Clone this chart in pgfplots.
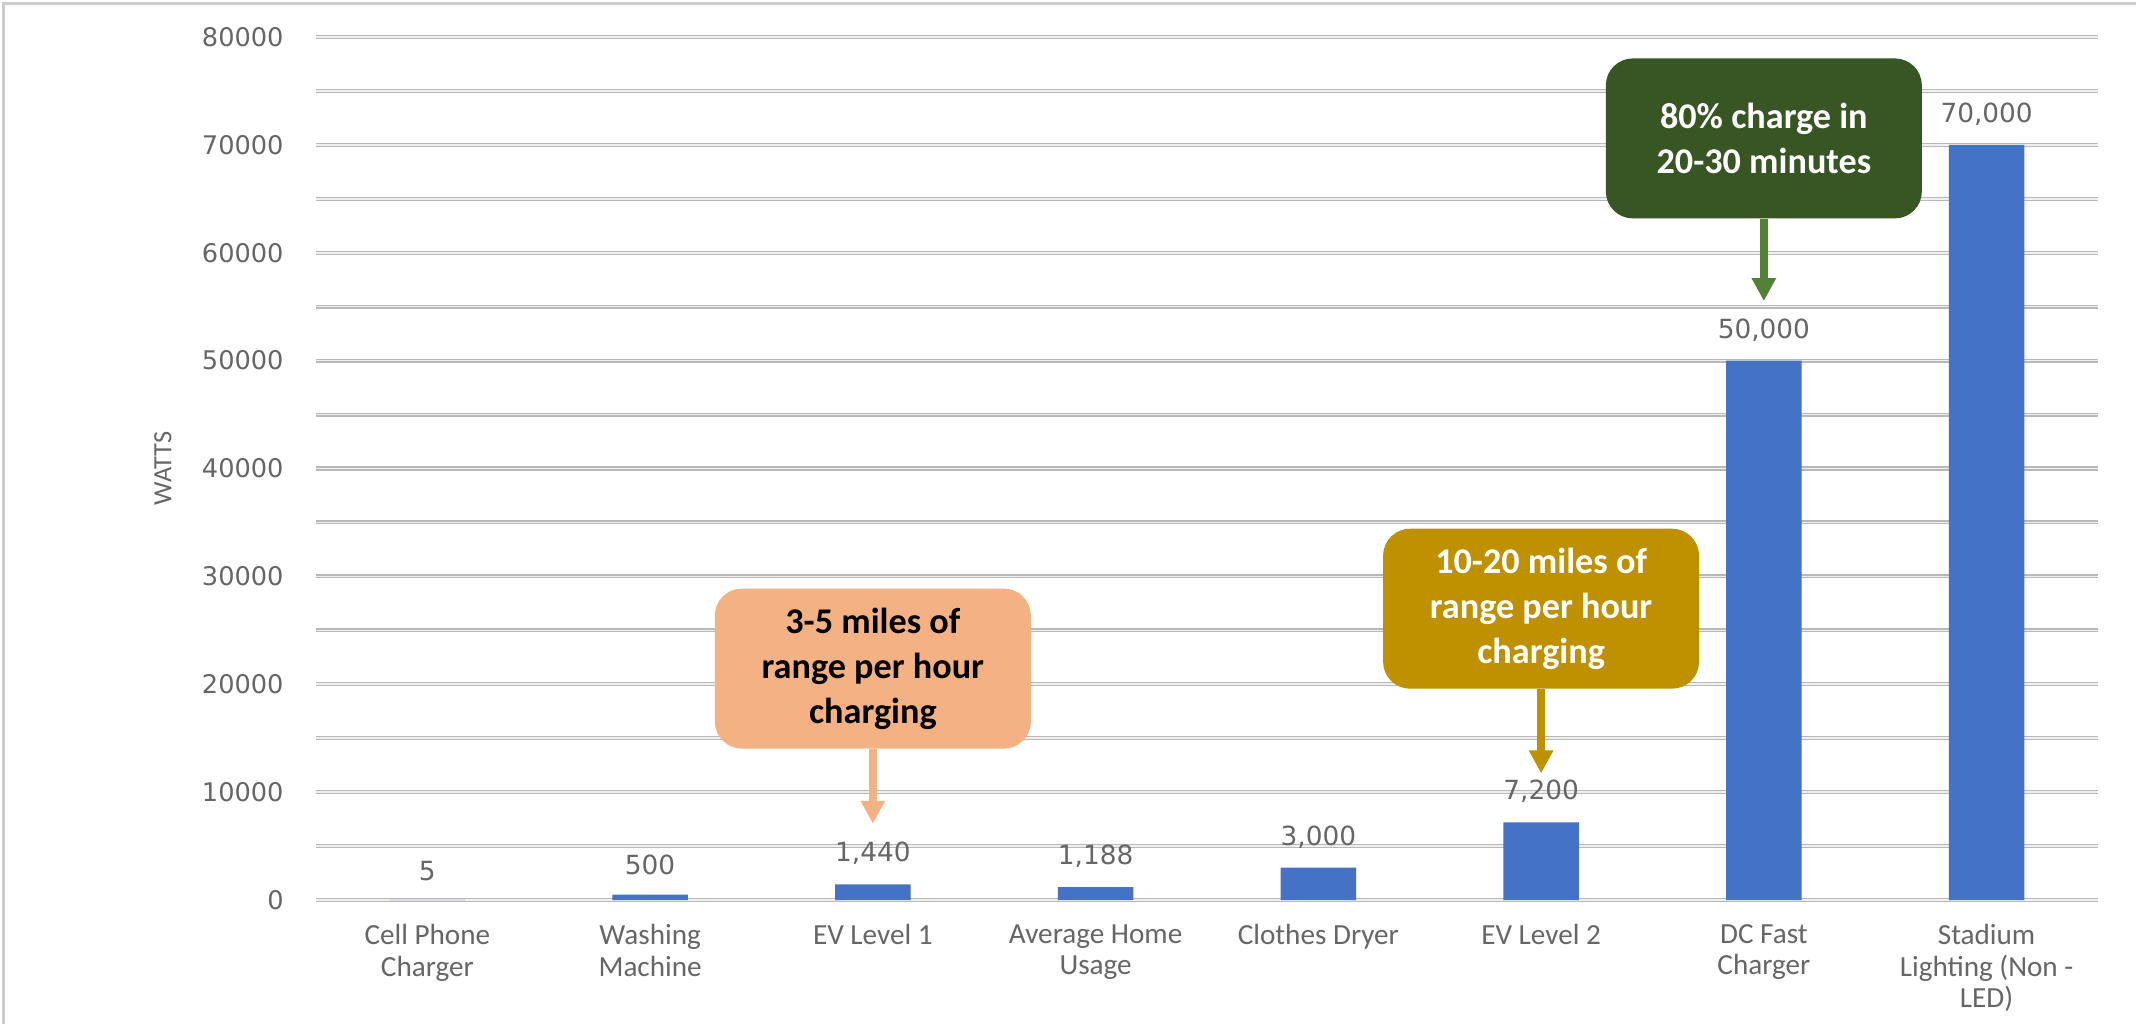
\documentclass[border=0pt]{standalone}
\usepackage{pgfplots}
\pgfplotsset{compat=1.18}
\usepackage{fontspec}
\setmainfont{Carlito}
\newfontfamily\dejavu{DejaVu Sans}
\usetikzlibrary{arrows.meta}

\definecolor{barblue}{HTML}{4472C4}
\definecolor{boxorange}{HTML}{F4B183}
\definecolor{boxgold}{HTML}{BF9000}
\definecolor{boxgreen}{HTML}{375623}
\definecolor{arrgreen}{HTML}{548235}
\definecolor{labgray}{HTML}{666666}

\begin{document}
\begin{tikzpicture}
% page frame, 1px of the reference = 0.01cm
\useasboundingbox (0,0) rectangle (21.36,10.24);
\draw[gray!40, line width=0.03cm] (0.04,0) -- (0.04,10.20) -- (21.36,10.20);

\begin{axis}[
	at={(3.16cm,1.24cm)}, anchor=south west,
	scale only axis,
	width=17.82cm, height=8.63cm,
	xmin=-0.5, xmax=7.5,
	ymin=0, ymax=80000,
	scaled y ticks=false,
	axis line style={draw=none},
	major tick length=0pt, minor tick length=0pt,
	xtick={0,...,7},
	xticklabels={{Cell Phone\\Charger},{Washing\\Machine},{EV Level 1},{Average Home\\Usage},{Clothes Dryer},{EV Level 2},{DC Fast\\Charger},{Stadium\\Lighting (Non -\\LED)}},
	xticklabel style={align=center, font=\fontsize{8.3}{8.9}\selectfont, text=labgray, yshift=-3.5pt},
	ytick={0,10000,...,80000},
	yticklabels={0,10000,20000,30000,40000,50000,60000,70000,80000},
	minor ytick={5000,15000,...,75000},
	yticklabel style={font=\dejavu\fontsize{7.3}{9}\selectfont, text=labgray, xshift=-0.2cm},
	ymajorgrids, yminorgrids,
	major grid style={draw=black!28, double=black!6, double distance=0.45pt, line width=0.35pt},
	minor grid style={draw=black!28, double=black!6, double distance=0.45pt, line width=0.35pt},
	ylabel={WATTS},
	every axis y label/.style={at={(axis description cs:-0.0859,0.5)}, rotate=90, anchor=center},
	ylabel style={font=\fontsize{7.5}{9}\selectfont, text=labgray},
	clip=false]

	\addplot[ybar, bar width=0.34, fill=barblue, draw=none,
		nodes near coords={\pgfmathprintnumber[fixed,precision=0,1000 sep={,},assume math mode=true]{\pgfplotspointmeta}},
		every node near coord/.append style={font=\dejavu\fontsize{7.5}{9}\selectfont, text=labgray, yshift=2pt}]
	coordinates{
		(0,5)
		(1,500)
		(2,1440)
		(3,1188)
		(4,3000)
		(5,7200)
		(6,50000)
		(7,70000)};

	% callouts
	\node[fill=boxorange, rounded corners=0.27cm, minimum width=3.16cm, minimum height=1.6cm,
		align=center, font=\bfseries\fontsize{10.3}{12.8}\selectfont, text=black]
		(ob) at (axis cs:2,21451) {3-5 miles of\\range per hour\\charging};
	\draw[boxorange, line width=2.4pt, -{Triangle[width=0.23cm,length=0.23cm]}]
		(ob.south) -- (axis cs:2,7066);

	\node[fill=boxgold, rounded corners=0.27cm, minimum width=3.16cm, minimum height=1.6cm,
		align=center, font=\bfseries\fontsize{10.3}{12.8}\selectfont, text=white]
		(gb) at (axis cs:5,27003) {10-20 miles of\\range per hour\\charging};
	\draw[boxgold, line width=2.4pt, -{Triangle[width=0.23cm,length=0.23cm]}]
		(gb.south) -- (axis cs:5,11735);

	\node[fill=boxgreen, rounded corners=0.27cm, minimum width=3.16cm, minimum height=1.6cm,
		align=center, font=\bfseries\fontsize{10.3}{12.8}\selectfont, text=white]
		(nb) at (axis cs:6,70600) {80\% charge in\\20-30 minutes};
	\draw[arrgreen, line width=2.4pt, -{Triangle[width=0.23cm,length=0.23cm]}]
		(nb.south) -- (axis cs:6,55520);
\end{axis}
\end{tikzpicture}
\end{document}
